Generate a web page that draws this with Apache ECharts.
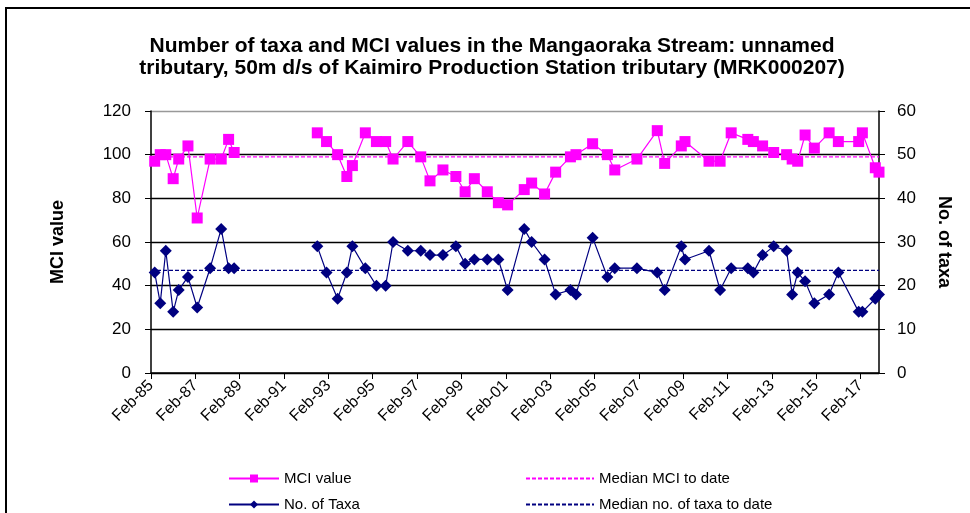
<!DOCTYPE html>
<html>
<head>
<meta charset="utf-8" />
<title>MCI and taxa - MRK000207</title>
<script src="https://cdn.jsdelivr.net/npm/echarts@6/dist/echarts.min.js"></script>
<style>
html, body { margin: 0; padding: 0; background: #fff; }
#main { width: 970px; height: 513px; }
</style>
</head>
<body>
<div id="main"></div>
<script>
// sample dates (YYYY-MM), null row marks the 1989-1992 gap
var sampleDates = [
	'1985-04','1985-07','1985-10','1986-02','1986-05','1986-10','1987-03','1987-10','1988-04','1988-08','1988-11',
	'1990-10',
	'1992-08','1993-01','1993-07','1993-12','1994-03','1994-10','1995-04','1995-09','1996-01','1996-09','1997-04','1997-09',
	'1998-04','1998-11','1999-04','1999-09','2000-04','2000-10','2001-03','2001-12','2002-04','2002-11','2003-05',
	'2004-01','2004-04','2005-01','2005-09','2006-01','2007-01','2007-12','2008-04','2009-01','2009-03',
	'2010-04','2010-10','2011-04','2012-01','2012-04','2012-09','2013-03','2013-10','2014-01','2014-04','2014-08',
	'2015-01','2015-09','2016-02','2017-01','2017-03','2017-10','2017-12'
];
var mciValues = [
	97,100,100,89,98,104,71,98,98,107,101,
	null,
	110,106,100,90,95,110,106,106,98,106,99,88,
	93,90,83,89,83,78,77,84,87,82,92,
	99,100,105,100,93,98,111,96,104,106,
	97,97,110,107,106,104,101,100,98,97,109,
	103,110,106,106,110,94,92
];
var taxaValues = [
	23,16,28,14,19,22,15,24,33,24,24,
	null,
	29,23,17,23,29,24,20,20,30,28,28,27,
	27,29,25,26,26,26,19,33,30,26,18,
	19,18,31,22,24,24,23,19,29,26,
	28,19,24,24,23,27,29,28,18,23,21,
	16,18,23,14,14,17,18
];
var medianMci = 99;
var medianTaxa = 23.5;
var axisStart = '1985-02';
var axisEnd = '2017-12';

// months since Feb 1985
function monthIndex(s) {
	var p = s.split('-');
	return (parseInt(p[0], 10) - 1985) * 12 + (parseInt(p[1], 10) - 2);
}
function pairs(vals) {
	return sampleDates.map(function (d, i) {
		return [monthIndex(d), vals[i] === null ? '-' : vals[i]];
	});
}

var xMin = monthIndex(axisStart);
var xMax = monthIndex(axisEnd);
var fontMain = 'Liberation Sans, Arial, sans-serif';

function legendItem(name, left, top, w, hideSymbol) {
	var l = {
		data: [name],
		left: left, top: top, padding: 0,
		itemWidth: w, itemHeight: 10,
		textStyle: { fontFamily: fontMain, fontSize: 15, color: '#000' }
	};
	if (hideSymbol) l.itemStyle = { opacity: 0 };
	return l;
}

var chart = echarts.init(document.getElementById('main'));

var option = {
	backgroundColor: '#fff',
	animation: false,
	title: {
		text: 'Number of taxa and MCI values in the Mangaoraka Stream: unnamed\ntributary, 50m d/s of Kaimiro Production Station tributary (MRK000207)',
		left: 487,
		textAlign: 'center',
		top: 30,
		textStyle: { fontFamily: fontMain, fontWeight: 'bold', fontSize: 21, lineHeight: 22, color: '#000' }
	},
	grid: { left: 151, right: 91, top: 111, bottom: 140 },
	legend: [
		legendItem('MCI value', 228, 471, 50, false),
		legendItem('No. of Taxa', 228, 497, 50, false),
		legendItem('Median MCI to date', 525, 471, 68, true),
		legendItem('Median no. of taxa to date', 525, 497, 68, true)
	],
	xAxis: {
		type: 'value',
		min: xMin, max: xMax, interval: 24,
		axisLine: { lineStyle: { color: '#000', width: 1.5 } },
		axisTick: { length: 6, lineStyle: { color: '#000' } },
		splitLine: { show: false },
		axisLabel: {
			rotate: 45, fontSize: 16, fontFamily: fontMain, color: '#000', margin: 10,
			showMaxLabel: false,
			formatter: function (v) {
				if ((v - xMin) % 24 !== 0) return '';
				var yr = 1985 + Math.floor((v + 1) / 12);
				return 'Feb-' + String(yr % 100).padStart(2, '0');
			}
		}
	},
	yAxis: [{
		type: 'value', min: 0, max: 120, interval: 20,
		name: 'MCI value', nameLocation: 'middle', nameRotate: 90, nameGap: 84,
		nameTextStyle: { fontFamily: fontMain, fontWeight: 'bold', fontSize: 18, color: '#000' },
		axisLine: { show: true, lineStyle: { color: '#000', width: 1.5 } },
		axisTick: { show: true, length: 6, lineStyle: { color: '#000' } },
		axisLabel: { fontSize: 17, fontFamily: fontMain, color: '#000', margin: 20 },
		splitLine: { show: true, lineStyle: { color: ['#000', '#000', '#000', '#000', '#000', '#000', '#999'], width: 1.3 } }
	}, {
		type: 'value', min: 0, max: 60, interval: 10, position: 'right',
		name: 'No. of taxa', nameLocation: 'middle', nameRotate: -90, nameGap: 56,
		nameTextStyle: { fontFamily: fontMain, fontWeight: 'bold', fontSize: 18, color: '#000' },
		axisLine: { show: true, lineStyle: { color: '#000', width: 1.5 } },
		axisTick: { show: true, length: 6, lineStyle: { color: '#000' } },
		axisLabel: { fontSize: 17, fontFamily: fontMain, color: '#000', margin: 18 },
		splitLine: { show: false }
	}],
	series: [{
		name: 'MCI value', type: 'line', yAxisIndex: 0, z: 4,
		data: pairs(mciValues), connectNulls: false,
		symbol: 'rect', symbolSize: 11,
		itemStyle: { color: '#ff00ff' },
		lineStyle: { color: '#ff00ff', width: 1.2 }
	}, {
		name: 'No. of Taxa', type: 'line', yAxisIndex: 1, z: 4,
		data: pairs(taxaValues), connectNulls: false,
		symbol: 'diamond', symbolSize: [12, 12],
		itemStyle: { color: '#000080' },
		lineStyle: { color: '#000080', width: 1.2 }
	}, {
		name: 'Median MCI to date', type: 'line', yAxisIndex: 0, z: 2,
		data: [[xMin, medianMci], [xMax, medianMci]],
		symbol: 'none',
		itemStyle: { color: '#ff00ff' },
		lineStyle: { color: '#ff00ff', width: 1.2, type: [4, 2] }
	}, {
		name: 'Median no. of taxa to date', type: 'line', yAxisIndex: 1, z: 2,
		data: [[xMin, medianTaxa], [xMax, medianTaxa]],
		symbol: 'none',
		itemStyle: { color: '#000080' },
		lineStyle: { color: '#000080', width: 1.2, type: [4, 2] }
	}],
	graphic: [{
		type: 'rect',
		shape: { x: 6, y: 8, width: 990, height: 540 },
		style: { fill: null, stroke: '#000', lineWidth: 2 },
		silent: true
	}]
};

chart.setOption(option);
</script>
</body>
</html>
